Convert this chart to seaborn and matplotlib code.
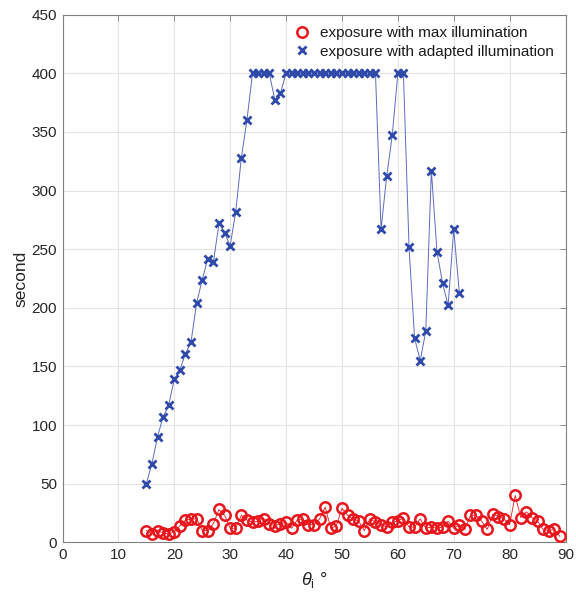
import matplotlib
matplotlib.use("Agg")
import matplotlib.pyplot as plt
import seaborn as sns
import numpy as np
import pandas as pd

# ---- data ----
angles_max = list(range(15, 90))
exposure_max = [10, 7, 10, 8, 7, 9, 14, 19, 20, 20,
                10, 10, 16, 28, 23, 12, 12, 23, 19, 17,
                18, 20, 16, 14, 16, 17, 12, 19, 20, 15,
                15, 20, 30, 12, 14, 29, 23, 20, 18, 10,
                20, 17, 15, 13, 17, 18, 21, 13, 13, 20,
                12, 13, 12, 13, 18, 12, 15, 11, 23, 23,
                18, 11, 24, 22, 20, 15, 40, 21, 26, 21,
                18, 11, 10, 11, 5]
angles_adapted = list(range(15, 72))
exposure_adapted = [50, 67, 90, 107, 117, 139, 147, 161, 171, 204,
                    224, 242, 239, 272, 264, 253, 282, 328, 360, 400,
                    400, 400, 400, 377, 383, 400, 400, 400, 400, 400,
                    400, 400, 400, 400, 400, 400, 400, 400, 400, 400,
                    400, 400, 267, 312, 347, 400, 400, 252, 174, 155,
                    180, 317, 248, 221, 202, 267, 213]
labels = ["exposure with max illumination", "exposure with adapted illumination"]
x_ticks = list(range(0, 91, 10))
y_ticks = list(range(0, 451, 50))

df_max = pd.DataFrame({"angle": angles_max, "t": exposure_max})
df_ad = pd.DataFrame({"angle": angles_adapted, "t": exposure_adapted})

sns.set_theme(style="whitegrid")
plt.rcParams["font.family"] = ["Liberation Sans", "DejaVu Sans"]
plt.rcParams["mathtext.fontset"] = "custom"
plt.rcParams["mathtext.rm"] = "Liberation Sans"
plt.rcParams["mathtext.it"] = "Liberation Sans:italic"

fig = plt.figure(figsize=(5.76, 5.96), dpi=100)
ax = fig.add_axes([62.5 / 576, 1 - 542.3 / 596, (565.5 - 62.5) / 576, (542.3 - 14.7) / 596])

red = "#e8161c"
blue = "#2f4aa8"

sns.lineplot(data=df_max, x="angle", y="t", ax=ax, color=red, lw=0.6,
             marker="o", ms=7.5, mfc="none", mec=red, mew=1.8,
             label=labels[0], zorder=3)
sns.lineplot(data=df_ad, x="angle", y="t", ax=ax, color="#5a6cc0", lw=0.7,
             marker="x", ms=6, mec=blue, mew=2.0,
             label=labels[1], zorder=3)

ax.set_xlim(0, 90)
ax.set_ylim(0, 450)
ax.set_xticks(x_ticks)
ax.set_yticks(y_ticks)
ax.grid(True, color="#e3e3e3", lw=0.8)
for s in ax.spines.values():
    s.set_visible(True)
    s.set_color("#808080")
    s.set_linewidth(0.8)
ax.tick_params(direction="in", top=True, right=True, length=4, width=0.6,
               color="#808080", labelsize=11, labelcolor="#262626", pad=4)
ax.set_xlabel(r"$\theta_\mathrm{i}$ °", fontsize=13, color="#262626", labelpad=6)
ax.set_ylabel("second", fontsize=12.5, color="#262626", labelpad=2)

leg = ax.legend(loc="upper right", frameon=False, fontsize=11,
                handlelength=1.2, handletextpad=0.6, borderaxespad=0.35,
                labelspacing=0.3, borderpad=0.4)
for h in leg.legend_handles:
    h.set_linestyle("")
for t in leg.get_texts():
    t.set_color("#1a1a1a")

fig.savefig("out.png", dpi=100)
